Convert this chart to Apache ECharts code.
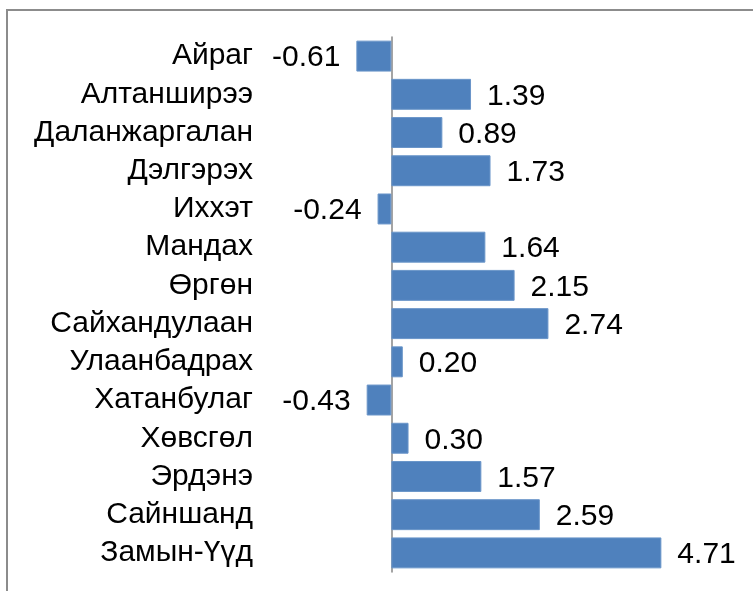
<!DOCTYPE html>
<html>
<head>
<meta charset="utf-8">
<style>
	html, body { margin: 0; padding: 0; background: #fff; }
	#charts { width: 753px; height: 591px; }
</style>
<script src="https://cdn.jsdelivr.net/npm/echarts@6/dist/echarts.min.js"></script>
</head>
<body>
<div id="charts"></div>
<script>
	// сумын нэрс (дээрээс доош)
	var categories = ['Айраг', 'Алтанширээ', 'Даланжаргалан', 'Дэлгэрэх', 'Иххэт', 'Мандах', 'Өргөн',
		'Сайхандулаан', 'Улаанбадрах', 'Хатанбулаг', 'Хөвсгөл', 'Эрдэнэ', 'Сайншанд', 'Замын-Үүд']
	var values = [-0.61, 1.39, 0.89, 1.73, -0.24, 1.64, 2.15, 2.74, 0.20, -0.43, 0.30, 1.57, 2.59, 4.71]

	var myChart = echarts.init(document.getElementById('charts'))
	var font = 'Liberation Sans, Arial, sans-serif'

	var option = {
		animation: false,
		backgroundColor: '#fff',
		// frame round the picture
		graphic: [{
			type: 'rect',
			shape: { x: 7, y: 10, width: 900, height: 800 },
			style: { fill: 'none', stroke: '#8c8c8c', lineWidth: 2 }
		}],
		grid: { left: 334, right: 75, top: 37, bottom: 19, outerBoundsMode: 'none' },
		xAxis: {
			type: 'value',
			min: -1,
			max: 5,
			show: false
		},
		yAxis: {
			type: 'category',
			inverse: true,
			data: categories,
			axisLine: { onZero: true, lineStyle: { color: '#868686', width: 1.5 } },
			axisTick: { show: false },
			axisLabel: {
				interval: 0,
				hideOverlap: false,
				margin: 81,
				color: '#000',
				fontSize: 30,
				fontFamily: font,
				padding: [4, 0, 0, 0]
			},
			splitLine: { show: false }
		},
		series: [{
			type: 'bar',
			barCategoryGap: '19%',
			data: values.map(function (v) {
				return {
					value: v,
					label: { position: v < 0 ? 'left' : 'right' }
				}
			}),
			itemStyle: { color: '#4f81bd', borderColor: '#6a95c9', borderWidth: 1 },
			label: {
				show: true,
				distance: 16,
				offset: [0, 2],
				color: '#000',
				fontSize: 30,
				fontFamily: font,
				formatter: function (p) { return p.value.toFixed(2) }
			}
		}]
	}
	myChart.setOption(option)
</script>
</body>
</html>
